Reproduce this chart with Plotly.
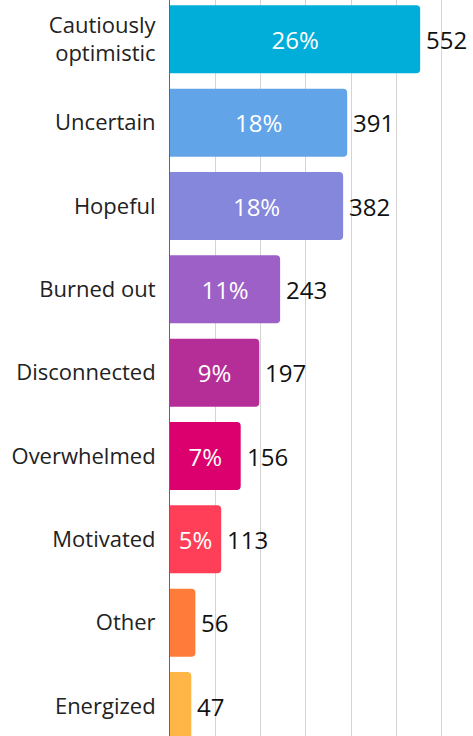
import plotly.graph_objects as go

categories = ["Cautiously<br>optimistic", "Uncertain", "Hopeful", "Burned out",
              "Disconnected", "Overwhelmed", "Motivated", "Other", "Energized"]
counts = [552, 391, 382, 243, 197, 156, 113, 56, 47]
percents = ["26%", "18%", "18%", "11%", "9%", "7%", "5%", "", ""]
colors = ["#00AED9", "#62A4E8", "#8487DC", "#9D60C6", "#B52E98",
          "#DB006D", "#FF3F57", "#FF7B3A", "#FFB646"]

FONT = "'Open Sans', Lato, sans-serif"

fig = go.Figure()
fig.add_trace(go.Bar(
    x=counts, y=categories, orientation="h",
    marker=dict(color=colors, cornerradius=4, line=dict(width=0)),
    text=percents, textposition="inside", insidetextanchor="middle",
    insidetextfont=dict(color="white", size=24, family=FONT),
    hoverinfo="skip", cliponaxis=True,
))

for c, v in zip(categories, counts):
    fig.add_annotation(x=v, y=c, text=str(v), showarrow=False,
                       xanchor="left", yanchor="middle", xshift=4,
                       font=dict(size=24, color="#111111", family=FONT))

fig.update_layout(
    width=473, height=736,
    margin=dict(l=170, r=0, t=0, b=0, autoexpand=False),
    paper_bgcolor="white", plot_bgcolor="white",
    bargap=0.184, showlegend=False,
    xaxis=dict(range=[0, 668.6], dtick=100, showgrid=True, gridcolor="#d4d4d4",
               gridwidth=1, showticklabels=False, zeroline=False, showline=False,
               ticks="", automargin=False),
    yaxis=dict(type="category", categoryorder="array", categoryarray=categories,
               range=[8.36, -0.472], showline=True, linecolor="#666666", linewidth=1,
               showgrid=False, ticks="", ticklabelstandoff=9, automargin=False,
               tickfont=dict(size=22, color="#222222", family=FONT)),
)

fig.write_html("out.html", config={"displayModeBar": False},
               post_script="document.body.style.margin='0';document.body.style.overflow='hidden';")
